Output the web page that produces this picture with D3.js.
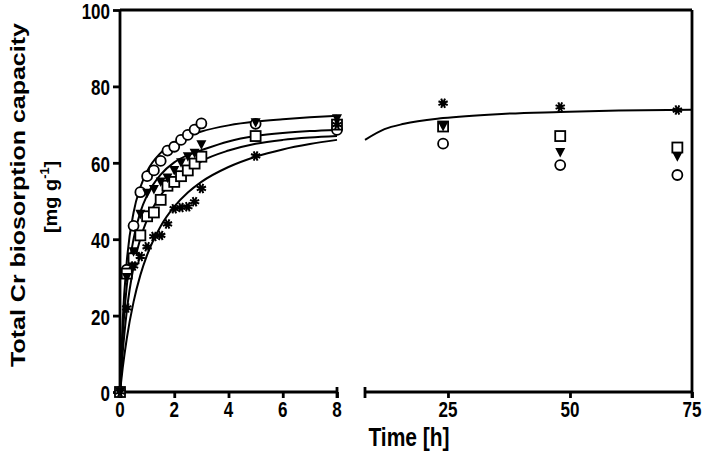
<!DOCTYPE html>
<html><head><meta charset="utf-8">
<script src="https://cdn.jsdelivr.net/npm/d3@7"></script>
<style>
html,body{margin:0;padding:0;background:#fff;}
svg text{font-family:"Liberation Sans",Arial,sans-serif;font-weight:bold;fill:#000;}
</style></head>
<body><svg id="c" width="706" height="458"></svg>
<script>
// ---- data ----
const times = [0,0.25,0.5,0.75,1,1.25,1.5,1.75,2,2.25,2.5,2.75,3,5,8,24,48,72];
const circles   = [0,32,43.5,52.3,56.5,58,60.5,63.2,64.2,66,67.3,68.7,70.3,70.2,68.6,65,59.4,56.8];
const triangles = [0,30,36.7,46.5,52,53,55,56,58,60,61.6,62.5,64.7,70.5,71.5,69.5,62.7,61.6];
const squares   = [0,31,35,41,46,47,50.3,54,55,56.5,58,59.8,61.6,67,70,69.5,67,64];
const asterisks = [0,22,33,35.5,38,40.7,41,44,48,48.3,48.5,49.8,53.3,61.8,70,75.6,74.6,73.8];

const fitT = [0,0.1,0.25,0.5,0.75,1,1.5,2,2.5,3,4,5,6,7,8];
const fitCircles   = [0,18.8,34.2,47.0,53.6,57.8,62.6,65.3,67.0,68.2,69.8,70.8,71.4,71.9,72.3];
const fitTriangles = [0,14.5,27.8,40.1,47.1,51.5,56.9,60.1,62.0,63.3,65.6,67.0,67.8,68.3,68.6];
const fitSquares   = [0,10.3,21.2,32.8,40.1,45.1,51.5,55.4,58.1,60.4,63.2,65.0,66.0,66.6,67.0];
const fitAsterisks = [0,6.3,14.0,23.6,30.6,35.9,43.4,48.5,52.2,55.0,58.9,61.6,63.5,64.9,66.0];
const fitRightT = [8,12,16,24,36,48,60,75];
const fitRightAsterisks = [66.0,68.8,70.2,71.7,72.8,73.3,73.7,73.9];

const yTicks = [0,20,40,60,80,100];
const xTicksLeft = [0,2,4,6,8];
const xTicksRight = [25,50,75];

// ---- layout ----
const svg = d3.select("#c");
const y = d3.scaleLinear().domain([0,100]).range([392,10]);
const xL = d3.scaleLinear().domain([0,8]).range([120,337]);
const xR = d3.scaleLinear().domain([8,75]).range([365,692]);
const xOf = t => t <= 8 ? xL(t) : xR(t);
const AX = 2.8;
const SY = 1.25; // vertical stretch of the lettering

// fitted curves
const line = (sx) => d3.line().x(d=>sx(d[0])).y(d=>y(d[1])).curve(d3.curveMonotoneX);
const curveG = svg.append("g").attr("fill","none").attr("stroke","#000").attr("stroke-width",2);
[fitCircles,fitTriangles,fitSquares,fitAsterisks].forEach(arr=>{
  curveG.append("path").attr("d", line(xL)(fitT.map((t,i)=>[t,arr[i]])));
});
curveG.append("path").attr("d", line(xR)(fitRightT.map((t,i)=>[t,fitRightAsterisks[i]])));

// axes (tick marks from d3 axes, labels drawn stretched)
function styleAxis(g){
  g.select(".domain").remove();
  g.selectAll("line").attr("stroke","#000").attr("stroke-width",AX);
  g.selectAll("text").remove();
}
svg.append("g").attr("transform","translate(120,0)")
  .call(d3.axisLeft(y).tickValues(yTicks).tickSize(7).tickSizeOuter(0)).call(styleAxis);
svg.append("g").attr("transform","translate(0,392)")
  .call(d3.axisBottom(xL).tickValues(xTicksLeft).tickSize(6).tickSizeOuter(0)).call(styleAxis);
svg.append("g").attr("transform","translate(0,392)")
  .call(d3.axisBottom(xR).tickValues(xTicksRight).tickSize(6).tickSizeOuter(0)).call(styleAxis);

const lab = svg.append("g").style("font-size","17px");
lab.selectAll("text.y").data(yTicks).join("text")
  .attr("text-anchor","end")
  .attr("transform",d=>`translate(110,${y(d)+9}) scale(1,${SY})`).text(d=>d);
lab.selectAll("text.xl").data(xTicksLeft).join("text")
  .attr("text-anchor","middle")
  .attr("transform",d=>`translate(${xL(d)},417) scale(1,${SY})`).text(d=>d);
lab.selectAll("text.xr").data(xTicksRight).join("text")
  .attr("text-anchor","middle")
  .attr("transform",d=>`translate(${xR(d)},417) scale(1,${SY})`).text(d=>d);

const ax = svg.append("g").attr("stroke","#000").attr("stroke-width",AX).attr("fill","none");
ax.append("line").attr("x1",120).attr("x2",120).attr("y1",y(100)).attr("y2",y(0)+1.4);
ax.append("line").attr("x1",120).attr("x2",xR(75)).attr("y1",y(100)).attr("y2",y(100));
ax.append("line").attr("x1",xR(75)).attr("x2",xR(75)).attr("y1",y(100)).attr("y2",y(0)+6);
ax.append("line").attr("x1",120).attr("x2",xL(8)).attr("y1",392).attr("y2",392);
ax.append("line").attr("x1",xL(8)).attr("x2",xL(8)).attr("y1",387).attr("y2",398);
ax.append("line").attr("x1",xR(8)).attr("x2",xR(75)).attr("y1",392).attr("y2",392);
ax.append("line").attr("x1",xR(8)).attr("x2",xR(8)).attr("y1",387).attr("y2",398);

// markers
const mk = svg.append("g");
const pts = arr => times.map((t,i)=>({x:xOf(t), y:y(arr[i])}));
mk.selectAll("circle.o").data(pts(circles)).join("circle")
  .attr("cx",d=>d.x).attr("cy",d=>d.y).attr("r",5)
  .attr("fill","#fff").attr("stroke","#000").attr("stroke-width",1.8);
mk.selectAll("rect.s").data(pts(squares)).join("rect")
  .attr("x",d=>d.x-5).attr("y",d=>d.y-5).attr("width",10).attr("height",10)
  .attr("fill","#fff").attr("stroke","#000").attr("stroke-width",1.8);
mk.selectAll("path.t").data(pts(triangles)).join("path")
  .attr("d",d=>`M${d.x-5},${d.y-4.5}L${d.x+5},${d.y-4.5}L${d.x},${d.y+5}Z`)
  .attr("fill","#000");
mk.selectAll("path.a").data(pts(asterisks)).join("path")
  .attr("d",d=>{let s="";for(let k=0;k<4;k++){const a=k*Math.PI/4+Math.PI/8;const dx=5*Math.cos(a),dy=5*Math.sin(a);s+=`M${d.x-dx},${d.y-dy}L${d.x+dx},${d.y+dy}`;}return s;})
  .attr("stroke","#000").attr("stroke-width",2).attr("fill","none");

// titles
svg.append("text").attr("text-anchor","middle")
  .attr("transform",`translate(409,446) scale(1,1.22)`)
  .style("font-size","21px").text("Time [h]");
const yt = svg.append("text").attr("transform",`translate(25,195) rotate(-90) scale(${SY},1)`)
  .attr("text-anchor","middle").style("font-size","20px");
yt.append("tspan").attr("x",0).attr("y",0).text("Total Cr biosorption capacity");
const yt2 = svg.append("text").attr("transform",`translate(57,197) rotate(-90) scale(1.05,1)`)
  .attr("text-anchor","middle").style("font-size","19px");
yt2.append("tspan").text("[mg g");
yt2.append("tspan").attr("dy",-8).style("font-size","12px").text("-1");
yt2.append("tspan").attr("dy",8).text("]");
</script></body></html>
